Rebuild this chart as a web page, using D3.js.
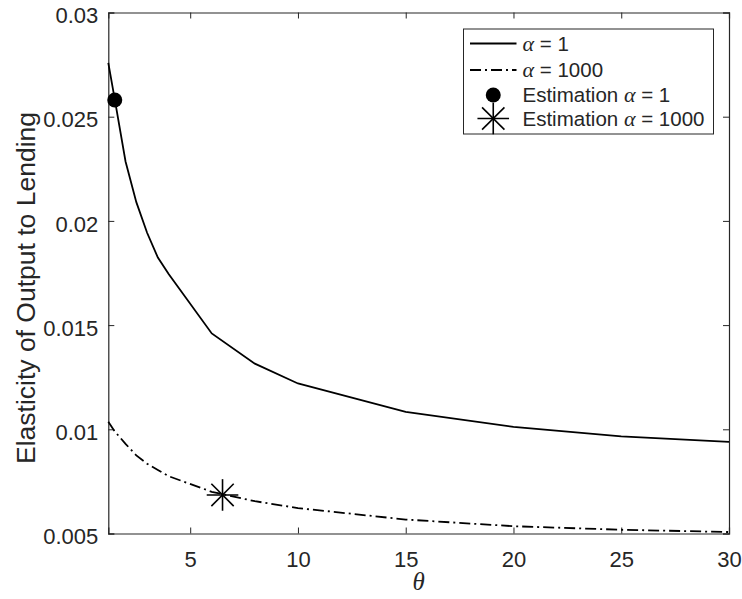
<!DOCTYPE html>
<html>
<head>
<meta charset="utf-8">
<script src="https://cdn.jsdelivr.net/npm/d3@7"></script>
<style>
  html, body { margin: 0; padding: 0; background: #fff; }
  svg { display: block; }
  text { font-family: "Liberation Sans", Arial, Helvetica, sans-serif; fill: #262626; }
</style>
</head>
<body>
<div id="chart"></div>
<script>
// Elasticity of output to lending as a function of theta
const thetaGrid = [1.2, 1.5, 2, 2.5, 3, 3.5, 4, 6, 8, 10, 15, 20, 25, 30];
const elasticityAlpha1 = [0.02758, 0.02583, 0.02285, 0.0209, 0.01943, 0.01824, 0.01745, 0.0146, 0.01315, 0.0122, 0.01084, 0.01012, 0.00966, 0.0094];
const elasticityAlpha1000 = [0.01036, 0.0099, 0.0093, 0.00875, 0.00835, 0.00805, 0.00775, 0.0070, 0.00655, 0.00622, 0.00567, 0.00535, 0.00518, 0.00507];

// Estimated points
const estTheta = [1.5, 6.5];
const estValue = [0.0258, 0.00685];

const xTicks = [5, 10, 15, 20, 25, 30];
const yTicks = [0.005, 0.01, 0.015, 0.02, 0.025, 0.03];
const yTickLabels = ["0.005", "0.01", "0.015", "0.02", "0.025", "0.03"];

const W = 742, H = 599;
const margin = { left: 108.3, right: 13, top: 12.5, bottom: 65.5 };
const iw = W - margin.left - margin.right;
const ih = H - margin.top - margin.bottom;
const axisColor = "#262626";
const tickFont = "22px";

const svg = d3.select("#chart").append("svg").attr("width", W).attr("height", H);
const g = svg.append("g").attr("transform", `translate(${margin.left},${margin.top})`);

const x = d3.scaleLinear().domain([1.2, 30]).range([0, iw]);
const y = d3.scaleLinear().domain([0.005, 0.03]).range([ih, 0]);

// Axes with inward ticks on all four sides
const tickLen = 6;
const xAxisB = d3.axisBottom(x).tickValues(xTicks).tickSize(-tickLen).tickPadding(18).tickFormat(d3.format("d"));
const xAxisT = d3.axisTop(x).tickValues(xTicks).tickSize(-tickLen).tickFormat("");
const yAxisL = d3.axisLeft(y).tickValues(yTicks).tickSize(-tickLen).tickPadding(10).tickFormat((d, i) => yTickLabels[i]);
const yAxisR = d3.axisRight(y).tickValues(yTicks).tickSize(-tickLen).tickFormat("");

function styleAxis(sel) {
  sel.select(".domain").attr("stroke", axisColor).attr("stroke-width", 1.2);
  sel.selectAll(".tick line").attr("stroke", axisColor).attr("stroke-width", 1);
  sel.selectAll(".tick text").attr("fill", axisColor)
    .style("font-family", '"Liberation Sans", Arial, sans-serif').style("font-size", tickFont);
}

g.append("g").attr("transform", `translate(0,${ih})`).call(xAxisB).call(styleAxis);
g.append("g").call(xAxisT).call(styleAxis);
g.append("g").call(yAxisL).call(styleAxis).selectAll(".tick text").attr("dy", "0.46em");
g.append("g").attr("transform", `translate(${iw},0)`).call(yAxisR).call(styleAxis);

// Axis labels
svg.append("text")
  .attr("transform", "translate(35,288) rotate(-90)")
  .attr("text-anchor", "middle")
  .style("font-size", "26.5px")
  .text("Elasticity of Output to Lending");

svg.append("text")
  .attr("x", margin.left + iw / 2)
  .attr("y", 590)
  .attr("text-anchor", "middle")
  .style("font-family", '"Liberation Serif", "Times New Roman", serif')
  .style("font-style", "italic")
  .style("font-size", "25px")
  .text("θ");

// Curves
const line = d3.line().x(d => x(d[0])).y(d => y(d[1]));
const solidData = thetaGrid.map((t, i) => [t, elasticityAlpha1[i]]);
const dashData = thetaGrid.map((t, i) => [t, elasticityAlpha1000[i]]);
const dashPattern = "11,4,2,4";

g.append("path").datum(solidData)
  .attr("d", line).attr("fill", "none").attr("stroke", "#000").attr("stroke-width", 1.8);
g.append("path").datum(dashData)
  .attr("d", line).attr("fill", "none").attr("stroke", "#000").attr("stroke-width", 1.8)
  .attr("stroke-dasharray", dashPattern);

// Markers
const starR = 15.8;
function drawStar(sel, cx, cy) {
  const s = sel.append("g").attr("transform", `translate(${cx},${cy})`);
  [0, 45, 90, 135].forEach(a => {
    const r = a * Math.PI / 180;
    s.append("line")
      .attr("x1", -starR * Math.cos(r)).attr("y1", -starR * Math.sin(r))
      .attr("x2", starR * Math.cos(r)).attr("y2", starR * Math.sin(r))
      .attr("stroke", "#000").attr("stroke-width", 1.6);
  });
}

g.append("circle")
  .attr("cx", x(estTheta[0])).attr("cy", y(estValue[0]))
  .attr("r", 7.5).attr("fill", "#000");
drawStar(g, x(estTheta[1]), y(estValue[1]));

// Legend
const legend = svg.append("g").attr("transform", "translate(463.5,29)");
legend.append("rect").attr("width", 250).attr("height", 105)
  .attr("fill", "#fff").attr("stroke", axisColor).attr("stroke-width", 1);

const rowsY = [14.5, 41, 66, 89.5];
const sampleX0 = 6.5, sampleX1 = 53, textX = 59;

legend.append("line").attr("x1", sampleX0).attr("x2", sampleX1)
  .attr("y1", rowsY[0]).attr("y2", rowsY[0]).attr("stroke", "#000").attr("stroke-width", 1.8);
legend.append("line").attr("x1", sampleX0).attr("x2", sampleX1)
  .attr("y1", rowsY[1]).attr("y2", rowsY[1]).attr("stroke", "#000").attr("stroke-width", 1.8)
  .attr("stroke-dasharray", dashPattern);
legend.append("circle").attr("cx", (sampleX0 + sampleX1) / 2).attr("cy", rowsY[2]).attr("r", 7.5).attr("fill", "#000");
drawStar(legend, (sampleX0 + sampleX1) / 2, rowsY[3]);

const legendLabels = [["", " = 1"], ["", " = 1000"], ["Estimation ", " = 1"], ["Estimation ", " = 1000"]];
legendLabels.forEach((parts, i) => {
  const t = legend.append("text").attr("x", textX).attr("y", rowsY[i]).attr("dy", "0.35em")
    .style("font-size", "20.5px");
  if (parts[0]) t.append("tspan").text(parts[0]);
  t.append("tspan").style("font-family", '"Liberation Serif", "Times New Roman", serif')
    .style("font-style", "italic").style("font-size", "22px").text("α");
  t.append("tspan").text(parts[1]);
});
</script>
</body>
</html>
